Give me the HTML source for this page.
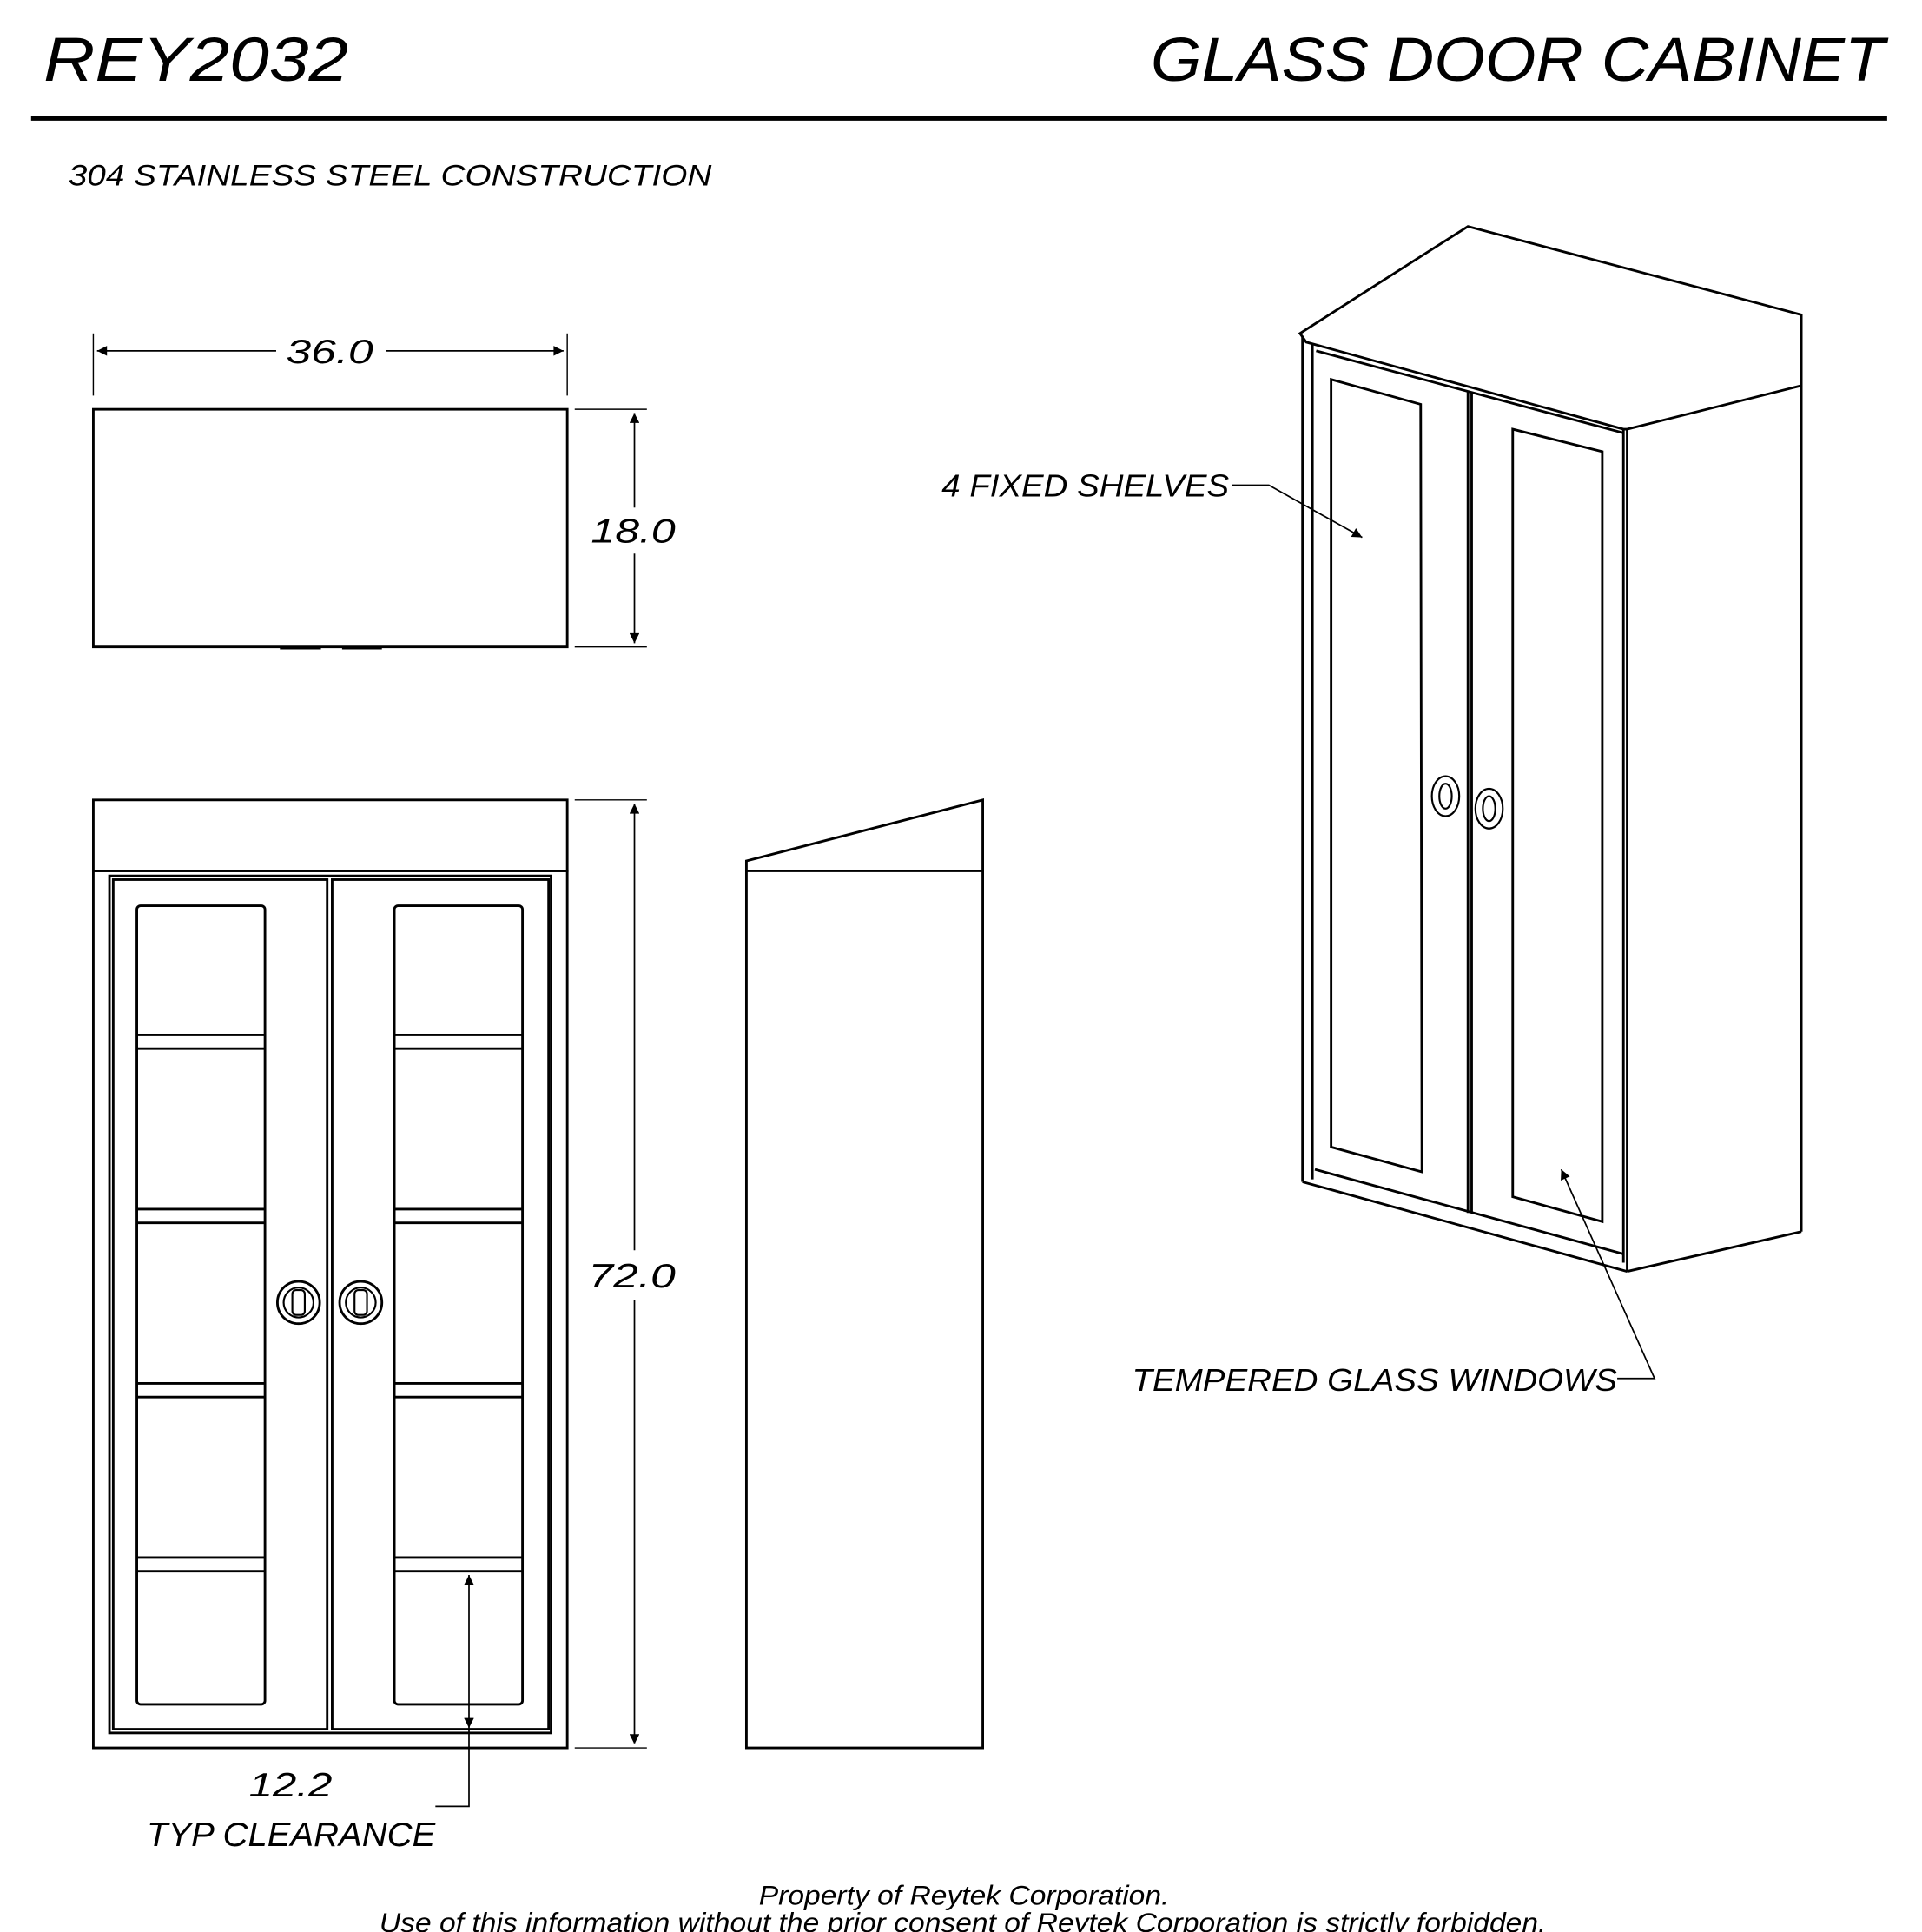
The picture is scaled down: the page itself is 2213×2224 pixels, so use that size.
<!DOCTYPE html>
<html><head><meta charset="utf-8"><style>
html,body{margin:0;padding:0;background:#fff;}
svg{display:block;}
text{font-family:"Liberation Sans",sans-serif;font-style:italic;fill:#000;}
</style></head><body>
<svg width="2213" height="2224" viewBox="0 0 1545 1553" preserveAspectRatio="none" xmlns="http://www.w3.org/2000/svg">
<defs>
<marker id="b" viewBox="0 0 10 10" refX="10" refY="5" markerWidth="22" markerHeight="8" markerUnits="userSpaceOnUse" orient="auto-start-reverse"><path d="M0,0L10,5L0,10z" fill="#000"/></marker>
</defs>
<g fill="none" stroke="#000">
<line x1="25" y1="95" x2="1517" y2="95" stroke-width="4"/>
<rect x="75" y="329" width="381" height="191" stroke-width="2"/>
<line x1="225" y1="521" x2="258" y2="521" stroke-width="2"/><line x1="275" y1="521" x2="307" y2="521" stroke-width="2"/>
<line x1="75" y1="268" x2="75" y2="318" stroke-width="1"/><line x1="456" y1="268" x2="456" y2="318" stroke-width="1"/>
<line x1="78" y1="282" x2="222" y2="282" stroke-width="1.2" marker-start="url(#b)"/>
<line x1="310" y1="282" x2="453" y2="282" stroke-width="1.2" marker-end="url(#b)"/>
<line x1="462" y1="329" x2="520" y2="329" stroke-width="1"/><line x1="462" y1="520" x2="520" y2="520" stroke-width="1"/>
<line x1="510" y1="332" x2="510" y2="408" stroke-width="1.2" marker-start="url(#b)"/>
<line x1="510" y1="445" x2="510" y2="517" stroke-width="1.2" marker-end="url(#b)"/>
<rect x="75" y="643" width="381" height="57" stroke-width="2"/>
<rect x="75" y="700" width="381" height="705" stroke-width="2"/>
<rect x="88" y="704" width="355" height="689" stroke-width="2"/>
<rect x="91" y="707" width="172" height="683" stroke-width="2"/>
<rect x="267" y="707" width="174" height="683" stroke-width="2"/>
<rect x="110" y="728" width="103" height="642" rx="3" stroke-width="2"/>
<rect x="317" y="728" width="103" height="642" rx="3" stroke-width="2"/>
<g stroke-width="2">
<path d="M110 832H213M110 843H213M110 972H213M110 983H213M110 1112H213M110 1123H213M110 1252H213M110 1263H213"/>
<path d="M317 832H420M317 843H420M317 972H420M317 983H420M317 1112H420M317 1123H420M317 1252H420M317 1263H420"/>
</g>
<circle cx="240" cy="1047" r="17" stroke-width="2"/><circle cx="240" cy="1047" r="12" stroke-width="1.5"/><rect x="235" y="1037" width="10" height="20" rx="3" stroke-width="1.5"/>
<circle cx="290" cy="1047" r="17" stroke-width="2"/><circle cx="290" cy="1047" r="12" stroke-width="1.5"/><rect x="285" y="1037" width="10" height="20" rx="3" stroke-width="1.5"/>
<line x1="462" y1="643" x2="520" y2="643" stroke-width="1"/><line x1="462" y1="1405" x2="520" y2="1405" stroke-width="1"/>
<line x1="510" y1="646" x2="510" y2="1005" stroke-width="1.2" marker-start="url(#b)"/>
<line x1="510" y1="1045" x2="510" y2="1402" stroke-width="1.2" marker-end="url(#b)"/>
<line x1="377" y1="1266" x2="377" y2="1389" stroke-width="1.2" marker-start="url(#b)" marker-end="url(#b)"/>
<polyline points="377,1389 377,1452 350,1452" stroke-width="1.2"/>
<rect x="600" y="700" width="190" height="705" stroke-width="2"/>
<polyline points="600,700 600,692 790,643 790,700" stroke-width="2"/>
<g stroke-width="2">
<polygon points="1045,268 1180,182 1448,253 1448,310 1308,345 1305,345 1050,275"/>
<line x1="1047" y1="270" x2="1047" y2="950"/>
<line x1="1055" y1="276" x2="1055" y2="948"/>
<line x1="1448" y1="310" x2="1448" y2="990"/>
<line x1="1308" y1="345" x2="1308" y2="1022"/>
<line x1="1305" y1="345" x2="1305" y2="1015"/>
<line x1="1047" y1="950" x2="1308" y2="1022"/>
<line x1="1308" y1="1022" x2="1448" y2="990"/>
<line x1="1057" y1="940" x2="1305" y2="1008"/>
<line x1="1180" y1="315" x2="1180" y2="975"/>
<line x1="1183" y1="316" x2="1183" y2="975"/>
<line x1="1058" y1="282" x2="1305" y2="348"/>
<polygon points="1070,305 1142,325 1143,942 1070,922"/>
<polygon points="1216,345 1288,363 1288,982 1216,962"/>
</g>
<g stroke-width="1.5"><ellipse cx="1162" cy="640" rx="11" ry="16"/><ellipse cx="1162" cy="640" rx="5" ry="10"/><ellipse cx="1197" cy="650" rx="11" ry="16"/><ellipse cx="1197" cy="650" rx="5" ry="10"/></g>
<polyline points="990,390 1020,390 1095,432" stroke-width="1.2" marker-end="url(#b)"/>
<polyline points="1300,1108 1330,1108 1255,940" stroke-width="1.2" marker-end="url(#b)"/>
</g>
<text x="35" y="65" font-size="50" textLength="245" lengthAdjust="spacingAndGlyphs">REY2032</text>
<text x="925" y="65" font-size="50" textLength="590" lengthAdjust="spacingAndGlyphs">GLASS DOOR CABINET</text>
<text x="55" y="149" font-size="24" textLength="517" lengthAdjust="spacingAndGlyphs">304 STAINLESS STEEL CONSTRUCTION</text>
<text x="230" y="292" font-size="27" textLength="70" lengthAdjust="spacingAndGlyphs">36.0</text>
<text x="475" y="436" font-size="27" textLength="68" lengthAdjust="spacingAndGlyphs">18.0</text>
<text x="473" y="1035" font-size="27" textLength="70" lengthAdjust="spacingAndGlyphs">72.0</text>
<text x="200" y="1444" font-size="27" textLength="67" lengthAdjust="spacingAndGlyphs">12.2</text>
<text x="118" y="1484" font-size="27" textLength="232" lengthAdjust="spacingAndGlyphs">TYP CLEARANCE</text>
<text x="757" y="399" font-size="25" textLength="231" lengthAdjust="spacingAndGlyphs">4 FIXED SHELVES</text>
<text x="910" y="1118" font-size="25" textLength="390" lengthAdjust="spacingAndGlyphs">TEMPERED GLASS WINDOWS</text>
<text x="610" y="1531" font-size="22" textLength="330" lengthAdjust="spacingAndGlyphs">Property of Reytek Corporation.</text>
<text x="305" y="1553" font-size="22" textLength="938" lengthAdjust="spacingAndGlyphs">Use of this information without the prior consent of Reytek Corporation is strictly forbidden.</text>
</svg>
</body></html>
